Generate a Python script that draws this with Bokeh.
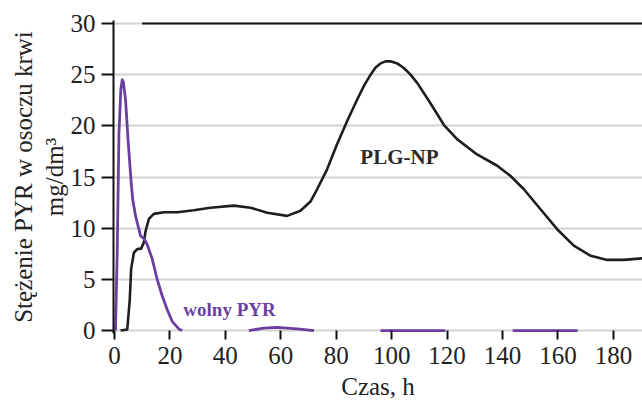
import numpy as np
from bokeh.plotting import figure
from bokeh.models import FixedTicker, Label, Range1d, Title
from bokeh.embed import file_html
from bokeh.resources import INLINE

# ---- data ----
x_ticks = [0, 20, 40, 60, 80, 100, 120, 140, 160, 180]
y_ticks = [0, 5, 10, 15, 20, 25, 30]

plg_x = [2.2, 4.6, 5.5, 6.0, 7.0, 8.2, 9.6, 10.6, 11.2, 12.4, 14.2, 17.8, 22.6, 28.6,
         34.6, 43.0, 49.1, 55.1, 62.3, 67.1, 70.7, 73.1, 76.7, 80.3, 83.9, 87.6, 90.0,
         92.4, 94.2, 96.0, 97.8, 99.6, 102.0, 104.4, 106.8, 109.2, 114.0, 118.8, 123.6,
         130.8, 138.1, 142.9, 147.7, 153.7, 159.7, 165.7, 171.8, 177.8, 183.8, 190.5]
plg_y = [0.0, 0.1, 3.0, 6.0, 7.6, 7.95, 8.0, 8.6, 9.7, 10.9, 11.4, 11.55, 11.55, 11.75,
         12.0, 12.2, 12.0, 11.5, 11.2, 11.7, 12.6, 13.8, 15.75, 18.2, 20.45, 22.6, 23.9,
         25.0, 25.7, 26.1, 26.3, 26.3, 26.1, 25.65, 25.0, 24.2, 22.2, 20.1, 18.7,
         17.2, 16.1, 15.1, 13.8, 11.85, 9.9, 8.3, 7.3, 6.9, 6.9, 7.05]

nan = float("nan")
pyr_x = [0.36, 0.96, 1.6, 2.3, 2.8, 3.2, 4.0, 4.9, 6.0, 6.6, 7.6, 9.4, 10.6, 11.8, 13.6, 15.4,
         17.2, 19.0, 20.8, 23.2, 24.4, nan,
         48.5, 53.9, 58.7, 65.9, 72.0, nan,
         96.0, 119.4, nan,
         143.7, 167.1]
pyr_y = [0.0, 7.3, 19.2, 23.6, 24.5, 24.3, 22.5, 18.6, 14.5, 12.75, 11.2, 9.25, 9.0, 8.4, 7.0, 5.0,
         3.4, 2.05, 0.9, 0.16, 0.0, nan,
         0.0, 0.23, 0.3, 0.16, 0.0, nan,
         0.0, 0.0, nan,
         0.0, 0.0]

top_line_x = [10.0, 190.5]
top_line_y = [30.0, 30.0]

PURPLE = "#6b3fa0"
BLACK = "#1e1e1e"
TXT = "#222222"
FONT = "Liberation Serif"

p = figure(width=642, height=404, output_backend="svg", toolbar_location=None,
           x_range=Range1d(-0.36, 190.5), y_range=Range1d(-0.29, 30.29),
           min_border_left=113, min_border_right=0, min_border_top=20,
           min_border_bottom=70)
p.outline_line_color = None
p.background_fill_color = "white"
p.border_fill_color = "white"

p.xgrid.grid_line_color = None
p.ygrid.ticker = FixedTicker(ticks=y_ticks)
p.ygrid.grid_line_color = "#d2d2d2"
p.ygrid.grid_line_width = 2

p.xaxis.ticker = FixedTicker(ticks=x_ticks)
p.yaxis.ticker = FixedTicker(ticks=y_ticks)
for ax in (p.xaxis, p.yaxis):
    ax.minor_tick_line_color = None
    ax.major_tick_line_color = "#111111"
    ax.major_tick_line_width = 2
    ax.major_label_text_font = FONT
    ax.major_label_text_font_size = "25px"
    ax.major_label_text_color = TXT

p.xaxis.axis_line_color = None
p.xaxis.major_tick_in = 3
p.xaxis.major_tick_out = 6
p.xaxis.major_label_standoff = 7

p.yaxis.axis_line_color = "#111111"
p.yaxis.axis_line_width = 2
p.yaxis.major_tick_in = 0
p.yaxis.major_tick_out = 12
p.yaxis.major_label_standoff = 6

p.segment(x0=top_line_x[0], y0=top_line_y[0], x1=top_line_x[1], y1=top_line_y[1],
          line_color="#111111", line_width=2)

p.line(plg_x, plg_y, line_color=BLACK, line_width=2.6, line_join="round")
p.line(pyr_x, pyr_y, line_color=PURPLE, line_width=2.8, line_join="round")

p.add_layout(Label(x=102.8, y=17.0, text="PLG-NP", text_font=FONT, text_font_size="21px",
                   text_font_style="bold", text_color="#2a2a2a", text_align="center",
                   text_baseline="alphabetic"))
p.add_layout(Label(x=41.5, y=2.1, text="wolny PYR", text_font=FONT, text_font_size="19px",
                   text_font_style="bold", text_color=PURPLE, text_align="center",
                   text_baseline="alphabetic"))

# axis titles (side panels, not clipped)
p.add_layout(Title(text="mg/dm³", align="center", offset=37, standoff=0,
                   text_font=FONT, text_font_size="25px", text_font_style="normal",
                   text_color=TXT), "left")
p.add_layout(Title(text="Stężenie PYR w osoczu krwi", align="center", offset=-6, standoff=3,
                   text_font=FONT, text_font_size="25px", text_font_style="normal",
                   text_color=TXT), "left")
p.add_layout(Title(text="Czas, h", align="center", offset=-21, standoff=9,
                   text_font=FONT, text_font_size="25px", text_font_style="normal",
                   text_color=TXT), "below")

open("out.html", "w").write(file_html(p, INLINE))
